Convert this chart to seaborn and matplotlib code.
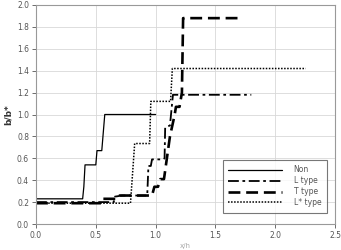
import matplotlib
matplotlib.use("Agg")
import matplotlib.pyplot as plt
import seaborn as sns
import pandas as pd

non_x = [0.0, 0.39, 0.40, 0.41, 0.50, 0.51, 0.55, 0.575, 1.0]
non_y = [0.23, 0.23, 0.34, 0.54, 0.54, 0.67, 0.67, 1.0, 1.0]

l_x = [0.0, 0.65, 0.66, 0.72, 0.93, 0.94, 0.96, 0.97, 1.06, 1.075, 1.08, 1.12, 1.145, 1.8]
l_y = [0.20, 0.20, 0.25, 0.26, 0.26, 0.53, 0.53, 0.59, 0.59, 0.60, 0.88, 0.90, 1.18, 1.18]

t_x = [0.0, 0.55, 0.56, 0.68, 0.70, 0.97, 0.975, 0.99, 1.02, 1.04, 1.07, 1.12, 1.16, 1.17, 1.20, 1.22, 1.23, 1.71]
t_y = [0.19, 0.19, 0.23, 0.23, 0.26, 0.26, 0.28, 0.34, 0.34, 0.41, 0.41, 0.80, 1.00, 1.07, 1.07, 1.20, 1.88, 1.88]

ls_x = [0.0, 0.79, 0.825, 0.95, 0.96, 1.125, 1.14, 2.255]
ls_y = [0.19, 0.19, 0.735, 0.735, 1.12, 1.12, 1.42, 1.42]

series = [
    ("Non", non_x, non_y),
    ("L type", l_x, l_y),
    ("T type", t_x, t_y),
    ("L* type", ls_x, ls_y),
]

sns.set_theme(style="whitegrid")
plt.rcParams['font.family'] = ['DejaVu Sans']

fig = plt.figure(figsize=(3.41, 2.5), dpi=100)
ax = fig.add_axes([36/341, 1 - 224/250, (335-36)/341, (224-5)/250])

styles = {
    "Non": dict(linestyle="-", linewidth=0.9),
    "L type": dict(linestyle=(0, (6, 2, 1.5, 2)), linewidth=1.3),
    "T type": dict(linestyle=(0, (4.5, 2.2)), linewidth=1.9),
    "L* type": dict(linestyle=(0, (1, 1)), linewidth=1.1),
}

for name, xs, ys in series:
    df = pd.DataFrame({"x": xs, "y": ys})
    sns.lineplot(data=df, x="x", y="y", ax=ax, color="black", label=name,
                 sort=False, estimator=None, **styles[name])

ax.set_xlim(0, 2.5)
ax.set_ylim(0, 2.0)
ax.set_xticks([0, 0.5, 1.0, 1.5, 2.0, 2.5])
ax.set_yticks([0.0, 0.2, 0.4, 0.6, 0.8, 1.0, 1.2, 1.4, 1.6, 1.8, 2.0])
ax.set_xticklabels(["0.0", "0.5", "1.0", "1.5", "2.0", "2.5"])
ax.set_yticklabels([f"{v:.1f}" for v in ax.get_yticks()])
ax.tick_params(axis="both", labelsize=5.5, colors="#555555", length=3, width=0.6,
               direction="out", pad=2, left=True, bottom=True)
ax.grid(True, color="#d8d8d8", linewidth=0.6)
for s in ax.spines.values():
    s.set_color("#999999")
    s.set_linewidth(0.8)

ax.set_ylabel("b/b*", fontsize=6.5, fontweight="bold", color="#333333", labelpad=3)
ax.set_xlabel("x/h", fontsize=5, color="#aaaaaa", labelpad=2)

leg = ax.legend(loc="lower right", fontsize=5.5, frameon=True, fancybox=False,
                edgecolor="#555555", handlelength=7.0, borderpad=0.7,
                labelspacing=0.25, handletextpad=1.6, bbox_to_anchor=(0.985, 0.035))
leg.get_frame().set_linewidth(0.8)
for t in leg.get_texts():
    t.set_color("#555555")

fig.savefig("out.png", dpi=100)
